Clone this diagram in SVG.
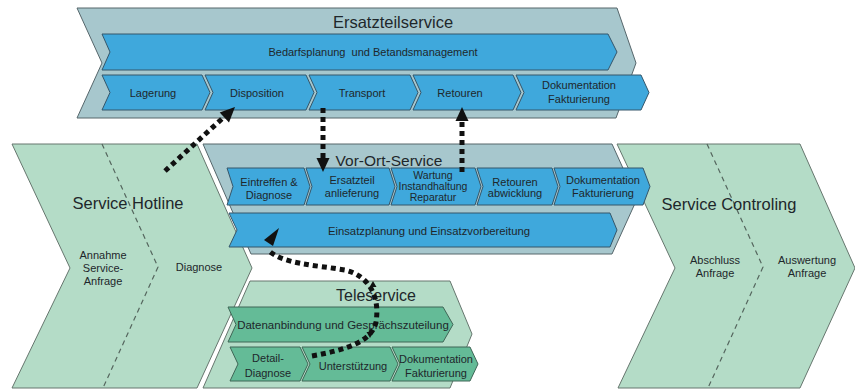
<svg xmlns="http://www.w3.org/2000/svg" width="855" height="390" viewBox="0 0 855 390">
<style>
.cont{fill:#a7c7cd;stroke:#56666b;stroke-width:1}
.blue{fill:#3fa8dc;stroke:#35566a;stroke-width:1}
.green{fill:#b4dcc7;stroke:#66766e;stroke-width:1}
.tgreen{fill:#64bb97;stroke:#3f6656;stroke-width:1}
.dash{fill:none;stroke:#55665e;stroke-width:1.2;stroke-dasharray:5 4}
text{font-family:"Liberation Sans",Arial,sans-serif;fill:#1e272b;text-anchor:middle}
.t11{font-size:11px}
.t105{font-size:10.5px}
.title{font-size:16.5px}
.dot{fill:none;stroke:#111;stroke-width:5;stroke-dasharray:5 4}
.head{fill:#111}
</style>
<rect width="855" height="390" fill="#ffffff"/>

<g id="service-hotline">
<polygon class="green" points="12,144 197,144 252,268 197,388 12,388 70,268"/>
<polyline class="dash" points="102,144 158,267 103,388"/>
<text class="title" x="128" y="209">Service Hotline</text>
<text class="t11" x="103" y="259">Annahme</text>
<text class="t11" x="103" y="272">Service-</text>
<text class="t11" x="103" y="285">Anfrage</text>
<text class="t11" x="199" y="271">Diagnose</text>
</g>

<g id="service-controling">
<polygon class="green" points="617,144 800,144 855,268 800,388 618,388 675,268"/>
<polyline class="dash" points="707,144 763,267 708,388"/>
<text class="title" x="729" y="210">Service Controling</text>
<text class="t11" x="715" y="264">Abschluss</text>
<text class="t11" x="715" y="277">Anfrage</text>
<text class="t11" x="807" y="264">Auswertung</text>
<text class="t11" x="807" y="277">Anfrage</text>
</g>

<g id="ersatzteilservice">
<polygon class="cont" points="77,8 617,8 636,63 616,118 77,118 102,63"/>
<text class="title" x="393" y="28">Ersatzteilservice</text>
<polygon class="blue" points="102,34 608,34 617,52 608,70 102,70 110,52"/>
<text class="t11" x="373" y="56" xml:space="preserve">Bedarfsplanung  und Betandsmanagement</text>
<polygon class="blue" points="102,75 202,75 210,92.5 202,110 102,110 110,92.5"/>
<text class="t11" x="153" y="97">Lagerung</text>
<polygon class="blue" points="205,75 306,75 314,92.5 306,110 205,110 213,92.5"/>
<text class="t11" x="257" y="97">Disposition</text>
<polygon class="blue" points="309,75 410,75 418,92.5 410,110 309,110 317,92.5"/>
<text class="t11" x="362" y="97">Transport</text>
<polygon class="blue" points="413,75 513,75 521,92.5 513,110 413,110 421,92.5"/>
<text class="t11" x="460" y="97">Retouren</text>
<polygon class="blue" points="516,75 641,75 649,92.5 641,110 516,110 524,92.5"/>
<text class="t11" x="579" y="89">Dokumentation</text>
<text class="t11" x="579" y="103">Fakturierung</text>
</g>

<g id="vor-ort-service">
<polygon class="cont" points="203,144 612,144 637,199 612,254 251,254"/>
<text x="389" y="166" style="font-size:15.5px">Vor-Ort-Service</text>
<polygon class="blue" points="227,168 304,168 310,186.5 304,205 227,205 233,186.5"/>
<text class="t11" x="269" y="186">Eintreffen &amp;</text>
<text class="t11" x="269" y="199">Diagnose</text>
<polygon class="blue" points="306,168 389,168 395,186.5 389,205 306,205 312,186.5"/>
<text class="t11" x="352" y="184">Ersatzteil</text>
<text class="t11" x="352" y="197">anlieferung</text>
<polygon class="blue" points="391,168 475,168 481,186.5 475,205 391,205 397,186.5"/>
<text class="t105" x="433" y="179">Wartung</text>
<text class="t105" x="433" y="190">Instandhaltung</text>
<text class="t105" x="433" y="201">Reparatur</text>
<polygon class="blue" points="477,168 552,168 558,186.5 552,205 477,205 483,186.5"/>
<text class="t11" x="515" y="186">Retouren</text>
<text class="t11" x="515" y="197">abwicklung</text>
<polygon class="blue" points="554,168 643,168 650,186.5 643,205 554,205 560,186.5"/>
<text class="t11" x="603" y="184">Dokumentation</text>
<text class="t11" x="603" y="197">Fakturierung</text>
<polygon class="blue" points="229,213 610,213 617,230 610,247 229,247 237,230"/>
<text x="429" y="235" style="font-size:11.3px">Einsatzplanung und Einsatzvorbereitung</text>
</g>

<g id="teleservice">
<polygon class="green" points="250,281 450,281 472,334 450,388 203,388"/>
<text x="376" y="301" style="font-size:16px">Teleservice</text>
<polygon class="tgreen" points="228,307 443,307 453,324.5 443,342 228,342 236,324.5"/>
<text x="343" y="329" style="font-size:11.5px">Datenanbindung und Gesprächszuteilung</text>
<polygon class="tgreen" points="230,347 300,347 308,364 300,381 230,381 238,364"/>
<text class="t11" x="268" y="362">Detail-</text>
<text class="t11" x="268" y="377">Diagnose</text>
<polygon class="tgreen" points="302,347 390,347 398,364 390,381 302,381 310,364"/>
<text class="t11" x="353" y="370">Unterstützung</text>
<polygon class="tgreen" points="392,347 470,347 478,364 470,381 392,381 400,364"/>
<text class="t11" x="436" y="363">Dokumentation</text>
<text class="t11" x="436" y="377">Fakturierung</text>
</g>

<g id="connectors">
<path class="dot" d="M165,171 L225,116"/>
<polygon class="head" points="235,107 219.7,112.5 229,122.6"/>
<path class="dot" d="M323,108 L323,159"/>
<polygon class="head" points="323,172 316.5,158 329.5,158"/>
<path class="dot" d="M462,172 L462,121"/>
<polygon class="head" points="462,107 455.5,121 468.5,121"/>
<path class="dot" d="M312,356 C345,350 372,342 376,322 C380,298 370,276 345,270 C315,265 282,264 268,250"/>
<polygon class="head" points="279,228 264,240 273,246"/>
<polygon class="head" points="373,281 369.5,287 376.5,287"/>
<polygon class="head" points="370,338 366.5,332 373.5,332"/>
</g>
</svg>
